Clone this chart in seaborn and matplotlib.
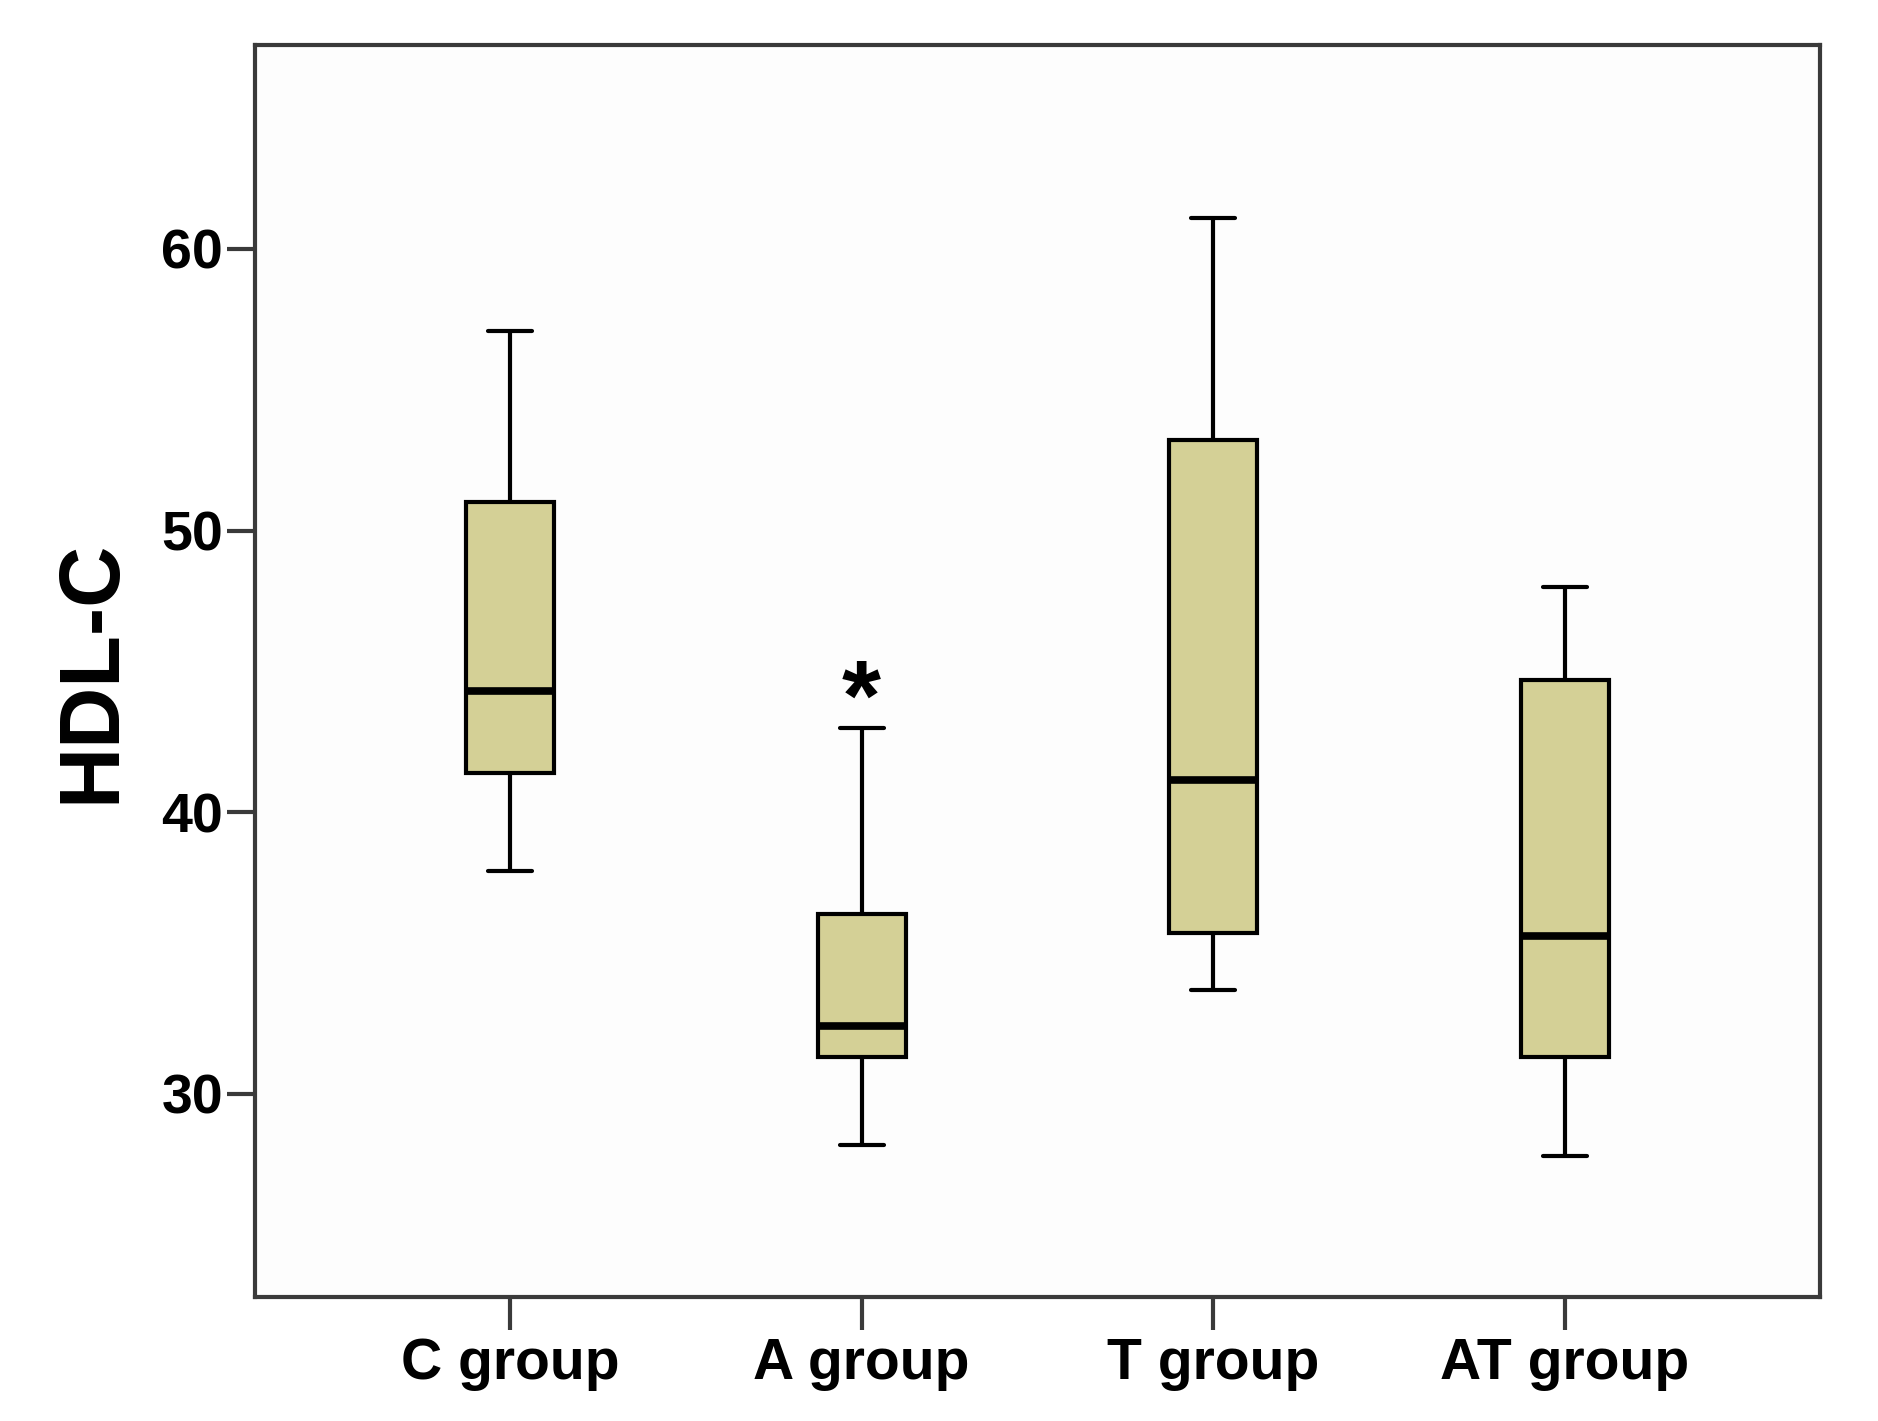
import numpy as np
import pandas as pd
import seaborn as sns
import matplotlib.pyplot as plt

# Five-number summaries (HDL-C)
groups = ["C group", "A group", "T group", "AT group"]
whisker_low = [37.9, 28.2, 33.7, 27.8]
q1 = [41.4, 31.3, 35.7, 31.3]
median = [44.3, 32.4, 41.15, 35.6]
q3 = [51.0, 36.4, 53.2, 44.7]
whisker_high = [57.1, 43.0, 61.1, 48.0]
yticks = [30, 40, 50, 60]
star_group = "A group"
star_y = 45.0

rows = []
for g, a, b, c, d, e in zip(groups, whisker_low, q1, median, q3, whisker_high):
    for v in (a, b, c, d, e):
        rows.append({"group": g, "HDL-C": v})
df = pd.DataFrame(rows)

sns.set_theme(style="white")
plt.rcParams["font.family"] = ["Liberation Sans", "DejaVu Sans"]
plt.rcParams["font.weight"] = "bold"
plt.rcParams["text.color"] = "black"
plt.rcParams["axes.labelcolor"] = "black"
plt.rcParams["xtick.color"] = "black"
plt.rcParams["ytick.color"] = "black"

fig = plt.figure(figsize=(18.78, 14.21), dpi=100)
fig.patch.set_facecolor("white")
ax = fig.add_axes([0.1358, 0.0873, 0.9691 - 0.1358, 0.9683 - 0.0873])
ax.set_facecolor("#fdfdfd")

sns.boxplot(data=df, x="group", y="HDL-C", order=groups, whis=(0, 100),
            width=0.25, color="#d4d096", saturation=1, linewidth=3,
            linecolor="black", showfliers=False,
            medianprops=dict(linewidth=5.5, color="black"), ax=ax)

ax.set_xlim(-0.725, 3.725)
ax.set_ylim(22.79, 67.24)
ax.set_yticks(yticks)
ax.set_yticklabels([str(t) for t in yticks])

for s in ax.spines.values():
    s.set_visible(True)
    s.set_color("#3a3a3a")
    s.set_linewidth(3)

ax.tick_params(axis="y", left=True, length=20, width=3, color="#3a3a3a",
               labelcolor="black", pad=3, labelsize=40)
ax.tick_params(axis="x", bottom=True, length=24, width=3, color="#3a3a3a",
               labelcolor="black", pad=5, labelsize=41)
for lab in ax.get_xticklabels() + ax.get_yticklabels():
    lab.set_fontweight("bold")

ax.set_xlabel("")
ax.set_ylabel("HDL-C", fontsize=61, fontweight="bold", color="black")
ax.yaxis.set_label_coords(-0.104, 0.5)
ax.yaxis.label.set_va("center")

ax.annotate("*", xy=(groups.index(star_group), star_y), xytext=(0, -0.58 * 72),
            textcoords="offset points", ha="center", va="baseline",
            fontsize=72, fontweight="bold", color="black")

fig.savefig("out.png", dpi=100)
